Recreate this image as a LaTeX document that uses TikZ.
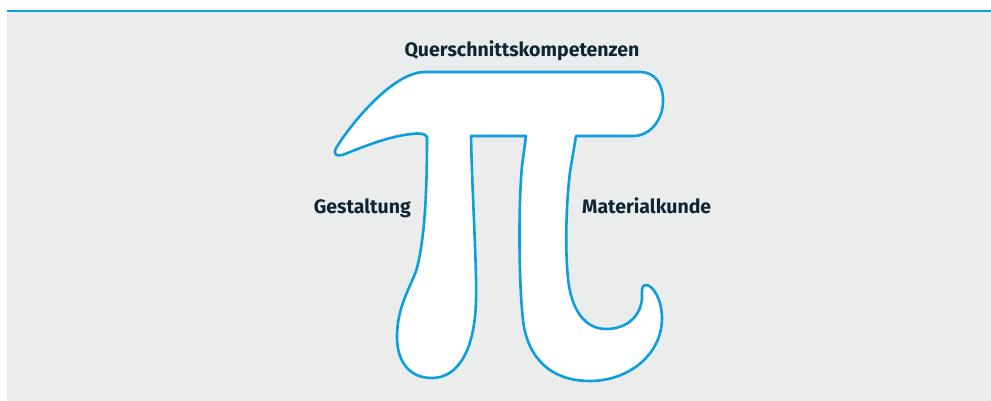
\documentclass[tikz,border=0pt]{standalone}
\usepackage{fontspec}
\setmainfont{Fira Sans}
\definecolor{piblue}{RGB}{12,158,222}
\definecolor{panelgray}{RGB}{235,236,236}
\definecolor{labeltext}{RGB}{14,38,50}
\begin{document}
\begin{tikzpicture}[
  x=1pt, y=-1pt,
  label/.style={font=\fontsize{19.5}{22}\selectfont\bfseries, text=labeltext, inner sep=0pt},
  outline/.style={draw=piblue, line width=2.6pt, fill=white, line join=round}
]
\useasboundingbox (0,0) rectangle (991,401);
\fill[white] (0,0) rectangle (991,401);
\fill[panelgray] (7,12.5) rectangle (991,401);
\fill[piblue] (7,10) rectangle (991,12.5);
% the pi
\draw[outline] (425,72) -- (640,72)
  .. controls (655,72) and (663,84) .. (663,101)
  .. controls (663,120) and (650,136) .. (633,136)
  -- (576,136) -- (570,172)
  .. controls (566,205) and (565,250) .. (568,278)
  .. controls (571,310) and (585,329) .. (606,329)
  .. controls (628,329) and (641,315) .. (642,298)
  .. controls (642,291) and (641,285) .. (646,285)
  .. controls (653,285) and (662,300) .. (662,318)
  .. controls (662,355) and (628,381) .. (590,381)
  .. controls (548,381) and (527,355) .. (523,320)
  .. controls (519,285) and (518,210) .. (522,166)
  -- (526,136) -- (471,136)
  .. controls (472,190) and (477,270) .. (476,300)
  .. controls (475,350) and (458,378) .. (432,378)
  .. controls (408,378) and (397,360) .. (397,337)
  .. controls (397,305) and (412,285) .. (417,268)
  .. controls (424,240) and (427,200) .. (427,137)
  .. controls (425,133) and (418,133) .. (412,134)
  .. controls (390,136) and (365,146) .. (345,154)
  .. controls (335,158) and (332,153) .. (338,145)
  .. controls (350,126) and (392,72) .. (425,72) -- cycle;
% labels
\node[label, anchor=base] (top) at (522,57) {Querschnittskompetenzen};
\node[label, anchor=base east] (left) at (411,214) {Gestaltung};
\node[label, anchor=base west] (right) at (582,214) {Materialkunde};
\end{tikzpicture}
\end{document}
